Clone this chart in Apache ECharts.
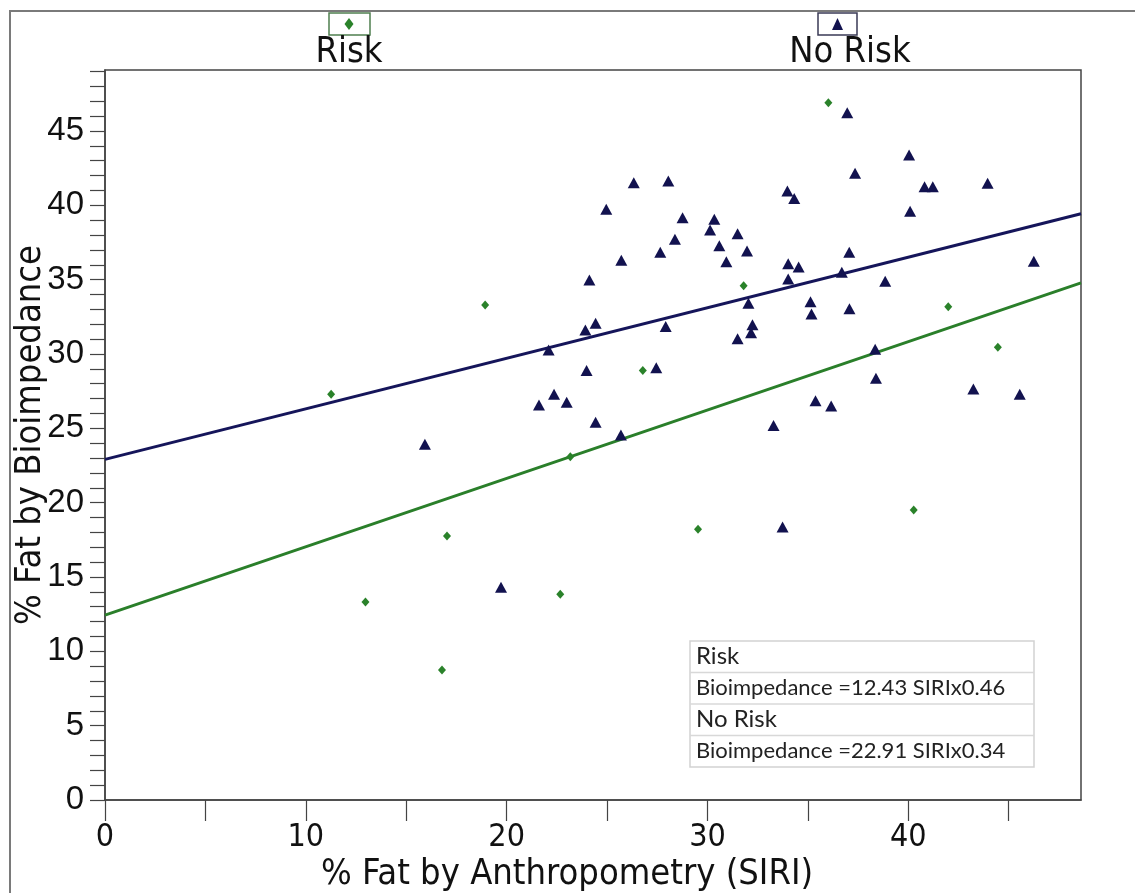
<!DOCTYPE html>
<html><head><meta charset="utf-8">
<script src="https://cdn.jsdelivr.net/npm/echarts@6/dist/echarts.min.js"></script>
<style>html,body{margin:0;padding:0;background:#fff}#c{width:1135px;height:893px}</style>
</head><body><div id="c"></div>
<script>
const groupNames = ['Risk', 'No Risk'];
const riskX = [11.26, 12.97, 16.78, 17.03, 18.93, 22.67, 23.17, 26.78, 29.53, 31.80, 36.02, 40.27, 41.99, 44.46];
const riskY = [27.29, 13.32, 8.74, 17.76, 33.30, 13.84, 23.09, 28.88, 18.21, 34.59, 46.90, 19.51, 33.18, 30.45];
const noRiskX = [15.93, 19.72, 21.61, 22.09, 22.36, 22.99, 23.92, 24.12, 24.43, 24.43, 23.98, 24.96, 25.69, 25.71,
  26.33, 27.45, 27.65, 27.92, 28.05, 28.38, 28.76, 30.13, 30.34, 30.59, 30.94, 31.50, 31.50, 31.97, 32.04, 32.17,
  32.24, 33.29, 33.74, 33.98, 34.02, 34.02, 34.32, 34.54, 35.13, 35.18, 35.38, 36.16, 36.69, 36.96, 37.06, 37.07,
  37.35, 38.35, 38.39, 38.85, 40.04, 40.09, 40.81, 41.22, 43.24, 43.95, 45.55, 46.25];
const noRiskY = [23.93, 14.31, 26.57, 30.27, 27.29, 26.75, 31.61, 34.98, 32.06, 25.41, 28.88, 39.73, 24.55, 36.30,
  41.52, 29.08, 36.84, 31.84, 41.64, 37.71, 39.17, 38.34, 39.06, 37.28, 36.21, 38.09, 31.03, 36.93, 33.41, 31.43,
  31.97, 25.19, 18.36, 40.96, 36.07, 35.04, 40.45, 35.85, 33.52, 32.69, 26.86, 26.50, 35.50, 46.23, 36.84, 33.05,
  42.15, 30.32, 28.37, 34.89, 43.38, 39.60, 41.25, 41.25, 27.65, 41.48, 27.29, 36.23];
const intercepts = [12.43, 22.91];
const slopes = [0.46, 0.34];
const xTicks = [0, 5, 10, 15, 20, 25, 30, 35, 40, 45];
const xLabels = [0, 10, 20, 30, 40];
const yTicks = [0,1,2,3,4,5,6,7,8,9,10,11,12,13,14,15,16,17,18,19,20,21,22,23,24,25,26,27,28,29,30,31,32,33,34,35,36,37,38,39,40,41,42,43,44,45,46,47,48,49];
const yLabels = [0, 5, 10, 15, 20, 25, 30, 35, 40, 45];
const xMin = 0, xMax = 48.6, yMin = 0, yMax = 49.1;
const xTitle = '% Fat by Anthropometry (SIRI)';
const yTitle = '% Fat by Bioimpedance';

const GREEN = '#2a7f2a', GREEN_M = '#2a822a', NAVY = '#15155a', NAVY_M = '#12124f';
const NARROW = "'Liberation Sans Narrow','Arial Narrow','DejaVu Sans Condensed',sans-serif";
const ARIAL = "'Liberation Sans',Arial,sans-serif";
const CAL = "Lato,'Open Sans',sans-serif";

function zip(xs, ys) { return xs.map((x, i) => [x, ys[i]]); }
function fitLine(k) { return [[xMin, intercepts[k]], [xMax, intercepts[k] + slopes[k] * xMax]]; }
function eqText(k) { return 'Bioimpedance =' + intercepts[k].toFixed(2) + ' SIRIx' + slopes[k].toFixed(2); }

const chart = echarts.init(document.getElementById('c'), null, {renderer: 'canvas'});
const boxL = 690, boxT = 641, boxW = 344, rowH = 31.5;
chart.setOption({
  backgroundColor: '#fff',
  animation: false,
  grid: {left: 105, right: 54, top: 70, bottom: 93, outerBoundsMode: 'none', containLabel: false,
         show: true, borderColor: '#444', borderWidth: 1.5, backgroundColor: 'transparent'},
  xAxis: {
    type: 'value', min: xMin, max: xMax,
    name: xTitle, nameLocation: 'middle', nameGap: 57, nameMoveOverlap: false,
    nameTextStyle: {fontFamily: NARROW, fontSize: 36, color: '#111', padding: [0, 52, 0, 0]},
    axisLine: {show: true, lineStyle: {color: '#444', width: 1.5}},
    axisTick: {show: true, inside: false, length: 21, customValues: xTicks, lineStyle: {color: '#444', width: 1.2}},
    axisLabel: {customValues: xLabels, margin: 22, fontFamily: NARROW, fontSize: 32, color: '#111'},
    splitLine: {show: false}
  },
  yAxis: {
    type: 'value', min: yMin, max: yMax,
    name: yTitle, nameLocation: 'middle', nameGap: 56, nameMoveOverlap: false,
    nameTextStyle: {fontFamily: NARROW, fontSize: 36, color: '#111'},
    axisLine: {show: true, lineStyle: {color: '#444', width: 1.5}},
    axisTick: {show: true, inside: false, length: 15, customValues: yTicks, lineStyle: {color: '#444', width: 1.2}},
    axisLabel: {customValues: yLabels, margin: 21, fontFamily: ARIAL, fontSize: 33, color: '#111'},
    splitLine: {show: false}
  },
  series: [
    {name: groupNames[0], type: 'scatter', data: zip(riskX, riskY), symbol: 'diamond', symbolSize: [8, 9],
     itemStyle: {color: GREEN_M, opacity: 1}, z: 3},
    {name: groupNames[1], type: 'scatter', data: zip(noRiskX, noRiskY), symbol: 'triangle', symbolSize: [12, 11],
     itemStyle: {color: NAVY_M, opacity: 1}, z: 3},
    {name: groupNames[0] + ' fit', type: 'line', data: fitLine(0), symbol: 'none', lineStyle: {color: GREEN, width: 3}, z: 2},
    {name: groupNames[1] + ' fit', type: 'line', data: fitLine(1), symbol: 'none', lineStyle: {color: NAVY, width: 3}, z: 2}
  ],
  graphic: [
    {type: 'rect', shape: {x: 10, y: 11, width: 1200, height: 1000}, style: {fill: 'none', stroke: '#7a7a7a', lineWidth: 2}, silent: true},
    // legend: Risk
    {type: 'rect', shape: {x: 329, y: 13, width: 41, height: 22}, style: {fill: '#fff', stroke: '#4f7f4f', lineWidth: 1.5}},
    {type: 'polygon', shape: {points: [[349, 18], [353.5, 24], [349, 30], [344.5, 24]]}, style: {fill: GREEN_M}},
    {type: 'text', x: 349, y: 53, style: {text: groupNames[0], font: '36px ' + NARROW, fill: '#111', align: 'center', verticalAlign: 'middle'}},
    // legend: No Risk
    {type: 'rect', shape: {x: 818, y: 13, width: 39, height: 22}, style: {fill: '#fff', stroke: '#3a3a55', lineWidth: 1.5}},
    {type: 'polygon', shape: {points: [[837.5, 18], [843, 30], [832, 30]]}, style: {fill: NAVY_M}},
    {type: 'text', x: 850, y: 53, style: {text: groupNames[1], font: '36px ' + NARROW, fill: '#111', align: 'center', verticalAlign: 'middle'}},
    // equation table
    {type: 'rect', shape: {x: boxL, y: boxT, width: boxW, height: rowH * 4}, style: {fill: '#fff', stroke: '#d2d2d2', lineWidth: 1.5}},
    {type: 'line', shape: {x1: boxL, y1: boxT + rowH, x2: boxL + boxW, y2: boxT + rowH}, style: {stroke: '#d8d8d8', lineWidth: 1.5}},
    {type: 'line', shape: {x1: boxL, y1: boxT + rowH * 2, x2: boxL + boxW, y2: boxT + rowH * 2}, style: {stroke: '#d8d8d8', lineWidth: 1.5}},
    {type: 'line', shape: {x1: boxL, y1: boxT + rowH * 3, x2: boxL + boxW, y2: boxT + rowH * 3}, style: {stroke: '#d8d8d8', lineWidth: 1.5}},
    {type: 'text', x: boxL + 6, y: boxT + rowH * 0.5, style: {text: groupNames[0], font: '24px ' + CAL, fill: '#222', verticalAlign: 'middle'}},
    {type: 'text', x: boxL + 6, y: boxT + rowH * 1.5, style: {text: eqText(0), font: '22px ' + CAL, fill: '#222', verticalAlign: 'middle'}},
    {type: 'text', x: boxL + 6, y: boxT + rowH * 2.5, style: {text: groupNames[1], font: '24px ' + CAL, fill: '#222', verticalAlign: 'middle'}},
    {type: 'text', x: boxL + 6, y: boxT + rowH * 3.5, style: {text: eqText(1), font: '22px ' + CAL, fill: '#222', verticalAlign: 'middle'}}
  ]
});
</script>
</body></html>
